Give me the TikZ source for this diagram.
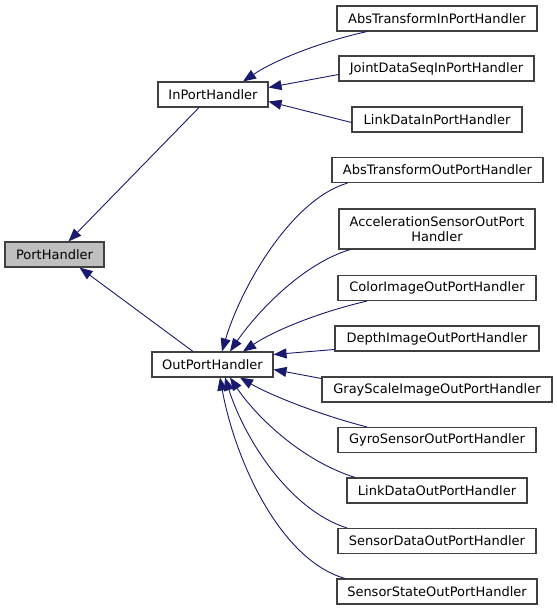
\documentclass[tikz,border=0pt]{standalone}
\usepackage{fontspec}
\setmainfont{DejaVu Sans}
\usetikzlibrary{arrows.meta}
\definecolor{edgeblue}{HTML}{191970}
\definecolor{boxgray}{HTML}{BFBFBF}
\tikzset{
  cls/.style={draw=black!75, line width=1.1pt, fill=white, minimum height=25pt, inner sep=0pt,
    font=\fontsize{13}{15}\selectfont, align=center},
  cur/.style={cls, fill=boxgray},
  edge/.style={draw=edgeblue, line width=0.9pt, -{Triangle[length=13pt,width=10pt]}}
}
\begin{document}
\begin{tikzpicture}[x=1pt,y=-1pt]
\useasboundingbox[fill=white] (0,0) rectangle (557,611);
\node[cur, minimum width=99pt] (ph) at (54.5,254.5) {PortHandler};
\node[cls, minimum width=110pt] (in) at (213,94.5) {InPortHandler};
\node[cls, minimum width=121pt] (out) at (212.5,364.5) {OutPortHandler};
\node[cls, minimum width=200pt] (atin) at (437,18.5) {AbsTransformInPortHandler};
\node[cls, minimum width=195pt] (jdin) at (436.5,68.5) {JointDataSeqInPortHandler};
\node[cls, minimum width=170pt] (ldin) at (437,119.5) {LinkDataInPortHandler};
\node[cls, minimum width=211pt] (atout) at (437.5,170) {AbsTransformOutPortHandler};
\node[cls, minimum width=196pt, minimum height=40pt] (acc) at (437,229) {AccelerationSensorOutPort\\Handler};
\node[cls, minimum width=198pt] (col) at (437,288) {ColorImageOutPortHandler};
\node[cls, minimum width=204pt] (dep) at (437,338.5) {DepthImageOutPortHandler};
\node[cls, minimum width=230pt] (gray) at (437,389.5) {GrayScaleImageOutPortHandler};
\node[cls, minimum width=198pt] (gyro) at (437,440) {GyroSensorOutPortHandler};
\node[cls, minimum width=180pt] (ldout) at (437,490.5) {LinkDataOutPortHandler};
\node[cls, minimum width=198pt] (sdat) at (437,541) {SensorDataOutPortHandler};
\node[cls, minimum width=200pt] (sst) at (437,591.5) {SensorStateOutPortHandler};
% to PortHandler
\draw[edge] ([xshift=-14pt]in.south) -- ([xshift=14pt]ph.north);
\draw[edge] ([xshift=-19.5pt]out.north) -- ([xshift=25pt]ph.south);
% to InPortHandler
\draw[edge] ([xshift=-70pt]atin.south) .. controls (320,42) and (275,60) .. ([xshift=30pt]in.north);
\draw[edge] ([yshift=-6pt]jdin.west) -- ([yshift=7pt]in.east);
\draw[edge] ([yshift=-3pt]ldin.west) -- ([yshift=-7pt]in.east);
% to OutPortHandler
\draw[edge] ([xshift=-90pt]atout.south) .. controls (290,200) and (240,290) .. ([xshift=9.5pt]out.north);
\draw[edge] ([xshift=-87pt]acc.south) .. controls (300,265) and (255,315) .. ([xshift=17.5pt]out.north);
\draw[edge] ([xshift=-70pt]col.south) .. controls (320,312) and (275,330) .. ([xshift=30.5pt]out.north);
\draw[edge] ([yshift=-11pt]dep.west) -- ([yshift=10pt]out.east);
\draw[edge] ([yshift=11pt]gray.west) -- ([yshift=-5pt]out.east);
\draw[edge] ([xshift=-70pt]gyro.north) .. controls (320,415) and (270,395) .. ([xshift=27.5pt]out.south);
\draw[edge] ([xshift=-82pt]ldout.north) .. controls (300,460) and (255,415) .. ([xshift=17.5pt]out.south);
\draw[edge] ([xshift=-90pt]sdat.north) .. controls (290,510) and (245,440) .. ([xshift=12.5pt]out.south);
\draw[edge] ([xshift=-92pt]sst.north) .. controls (280,560) and (235,460) .. ([xshift=7.5pt]out.south);
\end{tikzpicture}
\end{document}
